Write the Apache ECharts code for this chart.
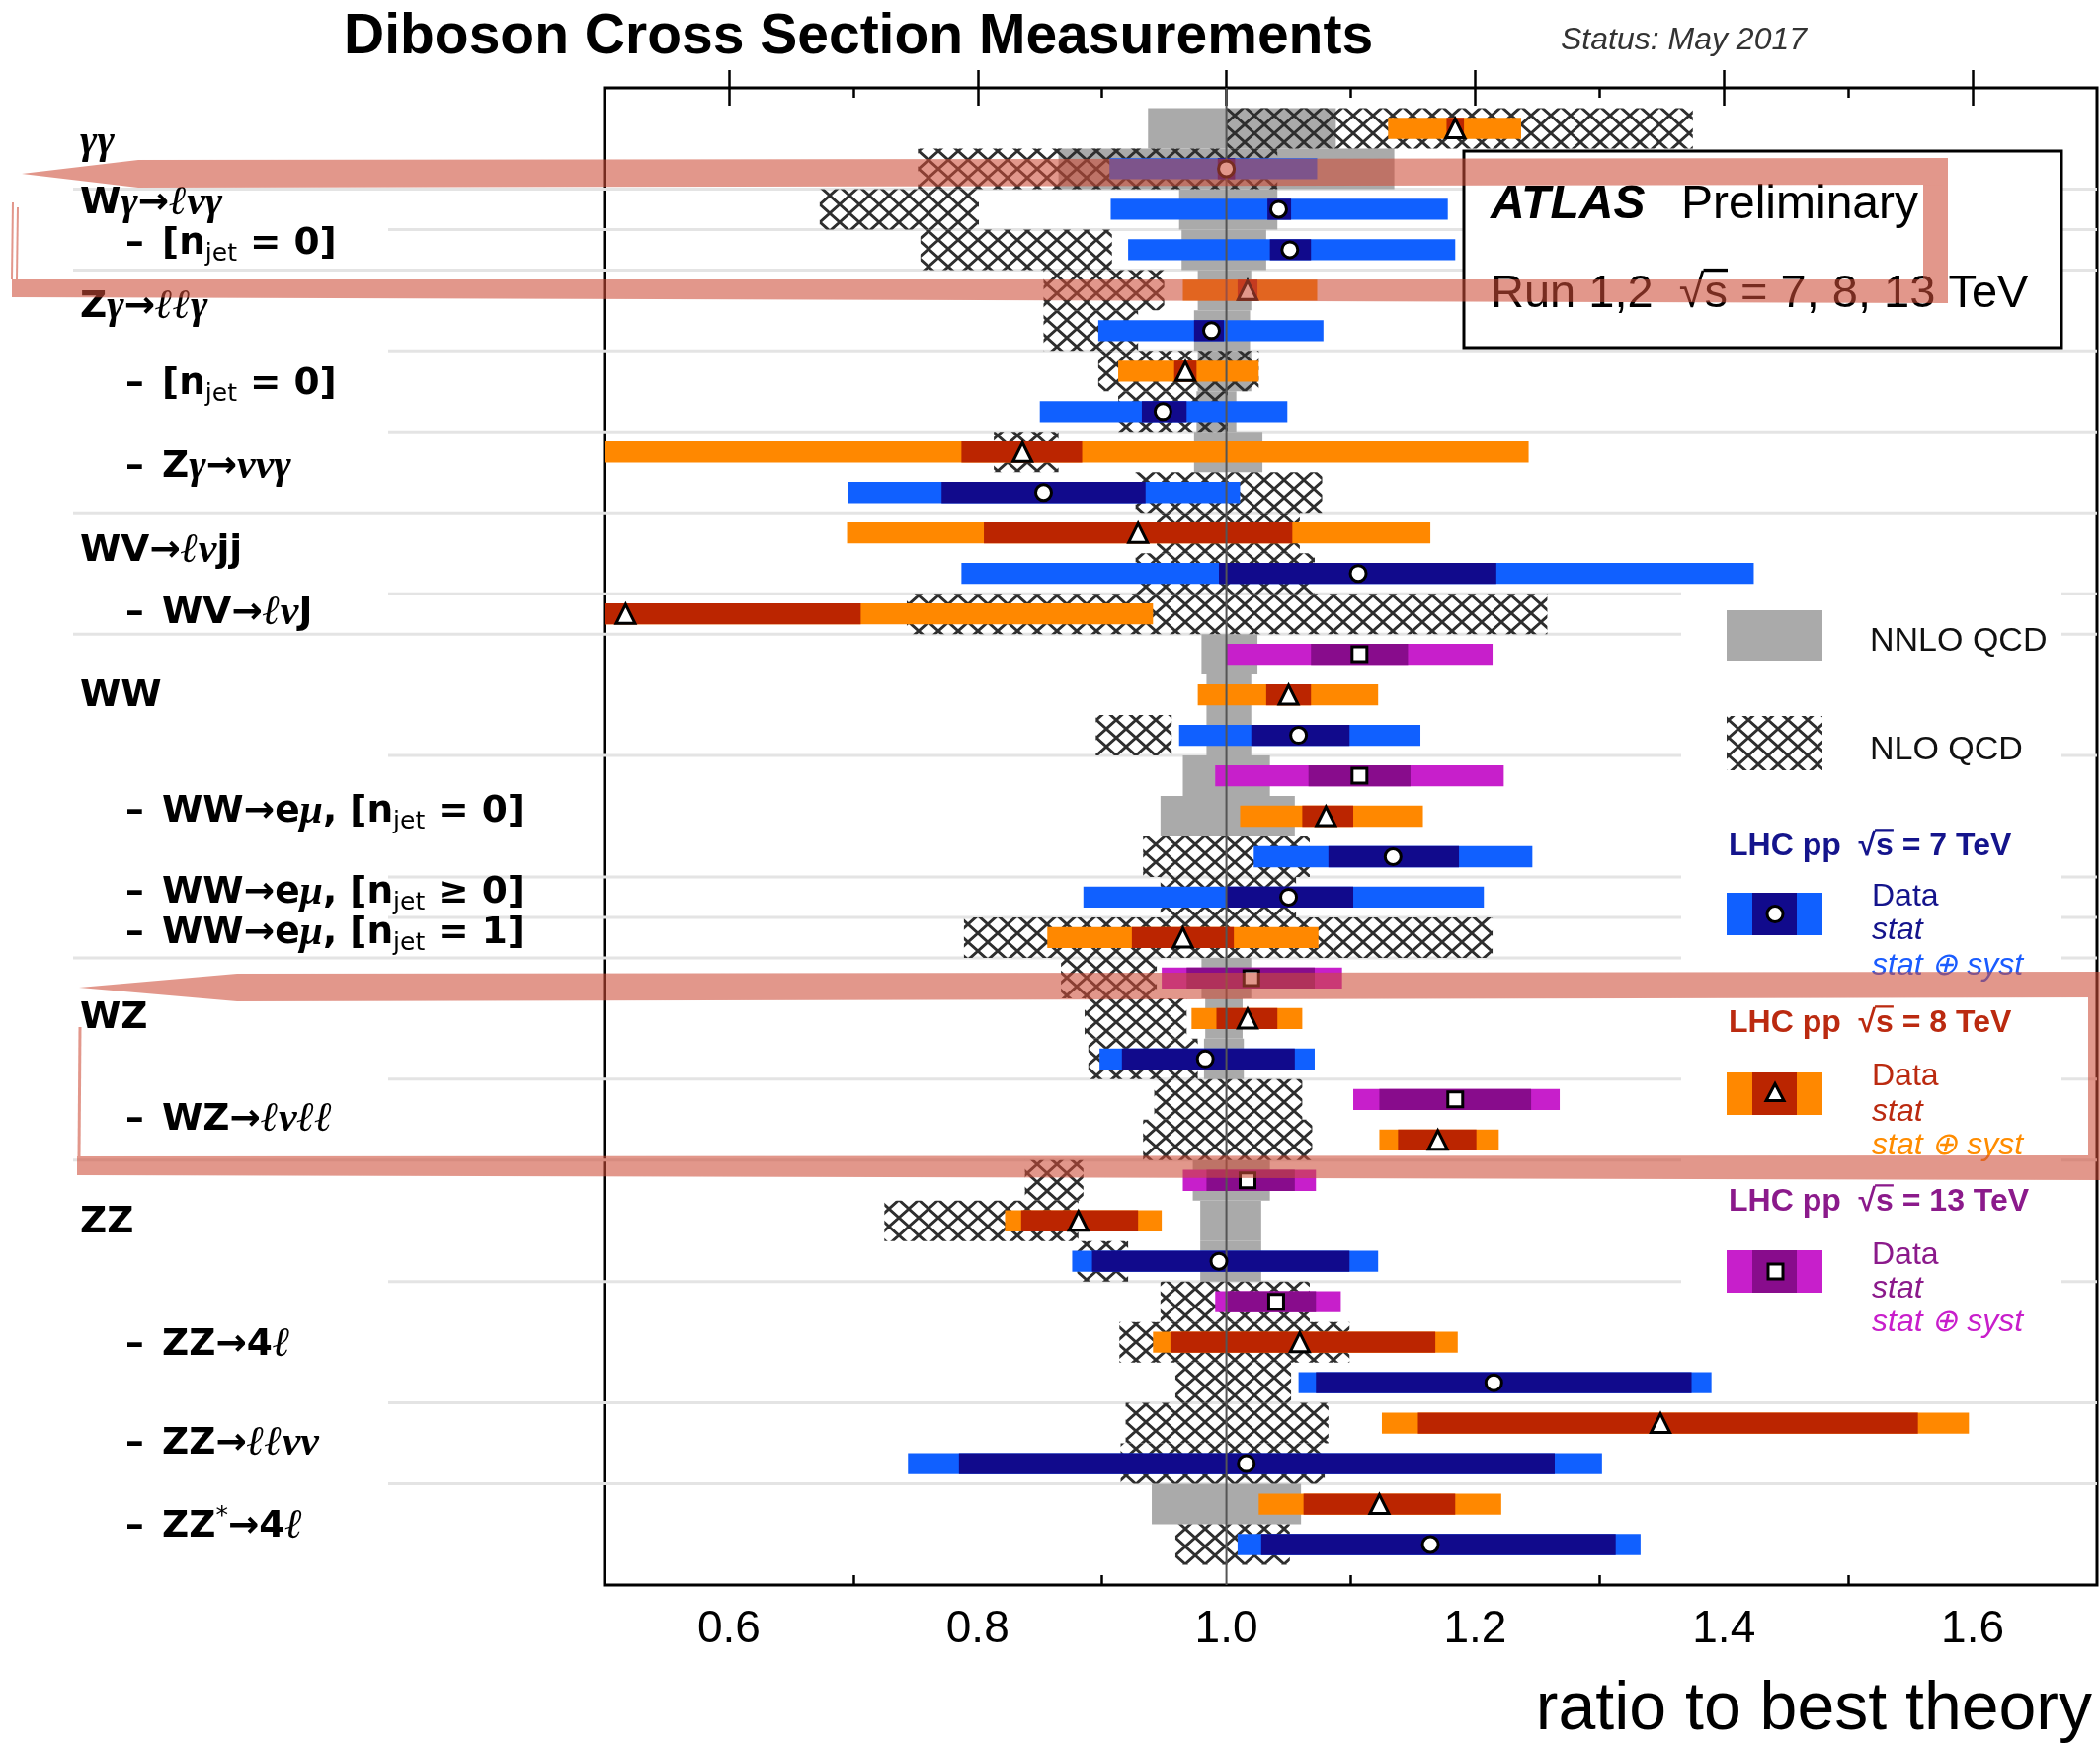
<!DOCTYPE html>
<html>
<head>
<meta charset="utf-8">
<title>Diboson Cross Section Measurements</title>
<script src="https://cdn.jsdelivr.net/npm/echarts@6/dist/echarts.min.js"></script>
<style>
  html, body { margin: 0; padding: 0; background: #fff; }
  #chart { width: 2126px; height: 1766px; }
</style>
</head>
<body>
<div id="chart"></div>
<script>
// measurement rows, 1 = top of the plot
var rows = [1, 2, 3, 4, 5, 6, 7, 8, 9, 10, 11, 12, 13, 14, 15, 16, 17, 18,
            19, 20, 21, 22, 23, 24, 25, 26, 27, 28, 29, 30, 31, 32, 33, 34, 35, 36];
// sqrt(s) in TeV of each row
var energy = [8, 7, 7, 7, 8, 7, 8, 7, 8, 7, 8, 7, 8, 13, 8, 7, 13, 8,
              7, 7, 8, 13, 8, 7, 13, 8, 13, 8, 7, 13, 8, 7, 8, 7, 8, 7];
// data / best theory
var central = [1.184, 1.000, 1.042, 1.051, 1.017, 0.988, 0.967, 0.949, 0.836, 0.853, 0.929, 1.106,
               0.517, 1.107, 1.050, 1.058, 1.107, 1.080, 1.134, 1.050, 0.965, 1.020, 1.017, 0.983,
               1.184, 1.170, 1.017, 0.881, 0.994, 1.040, 1.059, 1.215, 1.349, 1.016, 1.123, 1.164];
// stat (+) syst band
var totLow = [1.130, 0.906, 0.907, 0.921, 0.965, 0.897, 0.913, 0.850, 0.450, 0.696, 0.695, 0.787,
              0.200, 1.000, 0.977, 0.962, 0.991, 1.011, 1.022, 0.885, 0.856, 0.948, 0.972, 0.898,
              1.102, 1.123, 0.965, 0.822, 0.876, 0.991, 0.941, 1.058, 1.125, 0.744, 1.026, 1.009];
var totHigh = [1.237, 1.073, 1.178, 1.184, 1.073, 1.078, 1.026, 1.049, 1.243, 1.011, 1.164, 1.424,
               0.941, 1.214, 1.122, 1.156, 1.223, 1.158, 1.246, 1.207, 1.074, 1.093, 1.061, 1.071,
               1.268, 1.219, 1.072, 0.948, 1.122, 1.092, 1.186, 1.390, 1.597, 1.302, 1.221, 1.333];
// stat only band
var statLow = [1.177, 0.993, 1.033, 1.035, 1.009, 0.974, 0.958, 0.932, 0.787, 0.771, 0.805, 0.994,
               0.330, 1.068, 1.032, 1.020, 1.066, 1.061, 1.082, 1.000, 0.924, 0.968, 0.992, 0.916,
               1.123, 1.138, 0.984, 0.835, 0.892, 1.001, 0.955, 1.072, 1.154, 0.785, 1.062, 1.028];
var statHigh = [1.191, 1.007, 1.052, 1.068, 1.025, 0.998, 0.976, 0.968, 0.884, 0.935, 1.053, 1.217,
                0.706, 1.146, 1.068, 1.099, 1.148, 1.102, 1.187, 1.102, 1.006, 1.071, 1.041, 1.055,
                1.245, 1.201, 1.055, 0.929, 1.099, 1.072, 1.168, 1.374, 1.556, 1.264, 1.184, 1.313];

// NNLO QCD theory (grey)
var nnloRows = [1, 2, 3, 4, 5, 6, 7, 8, 9, 14, 15, 16, 17, 18, 22, 23, 24, 27, 28, 29, 35];
var nnloLow = [0.937, 0.865, 0.962, 0.964, 0.977, 0.974, 0.977, 0.976, 0.974, 0.980, 0.984,
               0.984, 0.965, 0.947, 0.980, 0.983, 0.982, 0.973, 0.979, 0.979, 0.940];
var nnloHigh = [1.088, 1.135, 1.041, 1.032, 1.020, 1.019, 1.020, 1.008, 1.029, 1.025, 1.020,
                1.020, 1.035, 1.055, 1.020, 1.013, 1.014, 1.035, 1.028, 1.028, 1.060];

// NLO QCD theory (hatched)
var nloRows = [1, 2, 3, 4, 5, 6, 7, 8, 9, 10, 11, 12, 13, 16, 19, 20, 21, 22, 23, 24, 25, 26,
               27, 28, 29, 30, 31, 32, 33, 34, 36];
var nloLow = [1.000, 0.752, 0.673, 0.754, 0.853, 0.853, 0.897, 0.913, 0.813, 0.927, 0.944, 0.927,
              0.743, 0.895, 0.933, 0.947, 0.789, 0.867, 0.886, 0.889, 0.942, 0.933, 0.838, 0.725,
              0.880, 0.947, 0.914, 0.959, 0.919, 0.915, 0.959];
var nloHigh = [1.375, 1.041, 0.801, 0.908, 0.950, 0.929, 1.026, 1.001, 0.865, 1.077, 1.059, 1.071,
               1.258, 0.956, 1.067, 1.056, 1.214, 0.944, 0.968, 0.977, 1.061, 1.069, 0.885, 0.881,
               0.921, 1.067, 1.099, 1.052, 1.082, 1.079, 1.051];

// light separators drawn below these rows
var sepLong = [2, 4, 10, 13, 21, 26];
var sepShort = [3, 6, 8, 12, 16, 19, 20, 24, 29, 32, 34];

// process labels
var labelRows = [1.35, 2.86, 3.86, 5.42, 7.32, 9.37, 11.45, 12.98, 15.03, 17.89, 19.89, 20.89,
                 22.99, 25.51, 28.04, 31.07, 33.51, 35.56];
var labelTexts = [
  '{m|γγ}',
  'W{m|γ}→{m|ℓνγ}',
  '[n{s|jet} = 0]',
  'Z{m|γ}→{m|ℓℓγ}',
  '[n{s|jet} = 0]',
  'Z{m|γ}→{m|ννγ}',
  'WV→{m|ℓν}jj',
  'WV→{m|ℓν}J',
  'WW',
  'WW→e{m|μ}, [n{s|jet} = 0]',
  'WW→e{m|μ}, [n{s|jet} ≥ 0]',
  'WW→e{m|μ}, [n{s|jet} = 1]',
  'WZ',
  'WZ→{m|ℓνℓℓ}',
  'ZZ',
  'ZZ→4{m|ℓ}',
  'ZZ→{m|ℓℓνν}',
  'ZZ{p|*}→4{m|ℓ}'
];
var labelSub = [0, 0, 1, 0, 1, 1, 0, 1, 0, 1, 1, 1, 0, 1, 0, 1, 1, 1];

var tickMajor = [0.6, 0.8, 1.0, 1.2, 1.4, 1.6];
var tickMinor = [0.7, 0.9, 1.1, 1.3, 1.5];

var energies = [7, 8, 13];

// colours per energy
var outerColor = { 7: '#1060ff', 8: '#ff8800', 13: '#c71fcb' };
var innerColor = { 7: '#110a8c', 8: '#bb2500', 13: '#880c8c' };
var markerShape = { 7: 'circle', 8: 'triangle', 13: 'rect' };
var markerSize = { 7: 16, 8: 19, 13: 15 };
var titleColor = { 7: '#14148c', 8: '#bb2a10', 13: '#8b1a8b' };
var systColor = { 7: '#1a5cff', 8: '#ff8c00', 13: '#c81ecb' };

var XMIN = 0.5, XMAX = 1.7;

// cross hatch pattern for NLO
var hatch = document.createElement('canvas');
hatch.width = 20;
hatch.height = 18;
var hctx = hatch.getContext('2d');
hctx.strokeStyle = '#2e2e2e';
hctx.lineWidth = 2.8;
hctx.beginPath();
hctx.moveTo(0, 0); hctx.lineTo(20, 18);
hctx.moveTo(20, 0); hctx.lineTo(0, 18);
hctx.stroke();
var hatchFill = { image: hatch, repeat: 'repeat' };

// used to put the bar over the s of sqrt(s)
var measure = document.createElement('canvas').getContext('2d');
function textWidth(str, font) {
  measure.font = font;
  return measure.measureText(str).width;
}

function clampX(v) {
  return Math.min(Math.max(v, XMIN), XMAX);
}

function bandRender(fill) {
  return function(params, api) {
    var r = api.value(0);
    var p0 = api.coord([clampX(api.value(1)), r - 0.5]);
    var p1 = api.coord([clampX(api.value(2)), r + 0.5]);
    return {
      type: 'rect',
      shape: { x: p0[0], y: p0[1], width: p1[0] - p0[0], height: p1[1] - p0[1] },
      style: { fill: fill }
    };
  };
}

function barRender(params, api) {
  var r = api.value(0);
  var e = api.value(5);
  var h = Math.abs(api.size([0, 0.52])[1]);
  var a = api.coord([clampX(api.value(1)), r]);
  var b = api.coord([clampX(api.value(2)), r]);
  var c = api.coord([clampX(api.value(3)), r]);
  var d = api.coord([clampX(api.value(4)), r]);
  return {
    type: 'group',
    children: [
      { type: 'rect', shape: { x: a[0], y: a[1] - h / 2, width: b[0] - a[0], height: h },
        style: { fill: outerColor[e] } },
      { type: 'rect', shape: { x: c[0], y: c[1] - h / 2, width: d[0] - c[0], height: h },
        style: { fill: innerColor[e] } }
    ]
  };
}

function sepRender(params, api) {
  var y = api.coord([1, api.value(0) + 0.5])[1];
  var x1 = api.coord([XMAX, 0])[0];
  return {
    type: 'line',
    shape: { x1: api.value(1) ? 74 : 393, y1: y, x2: x1, y2: y },
    style: { stroke: '#e4e4e4', lineWidth: 3 }
  };
}

function unityRender(params, api) {
  var p0 = api.coord([api.value(0), 0]);
  var p1 = api.coord([api.value(0), 37]);
  return {
    type: 'line',
    shape: { x1: p0[0], y1: p0[1], x2: p1[0], y2: p1[1] },
    style: { stroke: '#555', lineWidth: 2 }
  };
}

var richStyles = {
  m: { fontFamily: 'Liberation Serif', fontStyle: 'italic', fontWeight: 'bold', fontSize: 42, lineHeight: 46 },
  s: { fontFamily: 'DejaVu Sans', fontSize: 25, lineHeight: 21, verticalAlign: 'bottom' },
  p: { fontFamily: 'DejaVu Sans', fontSize: 25, lineHeight: 23, verticalAlign: 'top' }
};

function labelStyle(text) {
  return {
    text: text, fontFamily: 'DejaVu Sans', fontWeight: 'bold', fontSize: 37.5, lineHeight: 46,
    fill: '#000', align: 'left', verticalAlign: 'middle', rich: richStyles
  };
}

function labelRender(params, api) {
  var i = api.value(1);
  var y = api.coord([1, api.value(0)])[1];
  var kids = [];
  if (labelSub[i]) {
    kids.push({ type: 'text', x: 127, y: y, style: labelStyle('–') });
    kids.push({ type: 'text', x: 164, y: y, style: labelStyle(labelTexts[i]) });
  } else {
    kids.push({ type: 'text', x: 81, y: y, style: labelStyle(labelTexts[i]) });
  }
  return { type: 'group', children: kids };
}

function xAxisDef(pos, ticks, len, withLabels) {
  return {
    type: 'value', min: XMIN, max: XMAX, position: pos,
    axisLine: { show: false },
    splitLine: { show: false },
    axisTick: { show: true, inside: true, length: len, customValues: ticks,
                lineStyle: { color: '#000', width: 2.5 } },
    axisLabel: withLabels ? {
      show: true, customValues: tickMajor, margin: 22,
      formatter: function(v) { return v.toFixed(1); },
      fontSize: 46, fontFamily: 'Liberation Sans', color: '#000'
    } : { show: false }
  };
}

// overline for the "s" of a sqrt(s) written at (x, y)
function sqrtBar(prefix, x, y, font, size, color, z) {
  var x0 = x + textWidth(prefix + '√', font);
  var w = textWidth('s', font);
  var yy = y - size * 0.52;
  return { type: 'line', z: z, shape: { x1: x0 - 1, y1: yy, x2: x0 + w, y2: yy },
           style: { stroke: color, lineWidth: Math.max(2, size / 14) } };
}

// build series data
var barData = rows.map(function(r, i) {
  return [r, totLow[i], totHigh[i], statLow[i], statHigh[i], energy[i]];
});
var markerData = rows.map(function(r, i) {
  return { value: [central[i], r], symbol: markerShape[energy[i]], symbolSize: markerSize[energy[i]] };
});
var nnloData = nnloRows.map(function(r, i) { return [r, nnloLow[i], nnloHigh[i]]; });
var nloData = nloRows.map(function(r, i) { return [r, nloLow[i], nloHigh[i]]; });
var sepData = sepLong.map(function(r) { return [r, 1]; })
  .concat(sepShort.map(function(r) { return [r, 0]; }));
var labelData = labelRows.map(function(r, i) { return [r, i]; });

// legend and decorations
var HL = 'rgba(205,75,55,0.58)';
var graphics = [
  { type: 'text', x: 348, y: 38, style: { text: 'Diboson Cross Section Measurements', fontFamily: 'Liberation Sans',
      fontWeight: 'bold', fontSize: 57, fill: '#000', verticalAlign: 'middle' } },
  { type: 'text', x: 1580, y: 41, style: { text: 'Status: May 2017', fontFamily: 'Liberation Sans',
      fontStyle: 'italic', fontSize: 32, fill: '#333', verticalAlign: 'middle' } },
  { type: 'text', x: 2118, y: 1732, style: { text: 'ratio to best theory', fontFamily: 'Liberation Sans',
      fontSize: 68, fill: '#000', align: 'right', verticalAlign: 'middle' } },

  // ATLAS box
  { type: 'rect', z: 10, shape: { x: 1482, y: 153, width: 605, height: 199 },
    style: { fill: '#fff', stroke: '#000', lineWidth: 3 } },
  { type: 'text', z: 11, x: 1509, y: 208, style: { text: 'ATLAS', fontFamily: 'Liberation Sans',
      fontStyle: 'italic', fontWeight: 'bold', fontSize: 48, fill: '#000', verticalAlign: 'middle' } },
  { type: 'text', z: 11, x: 1702, y: 208, style: { text: 'Preliminary', fontFamily: 'Liberation Sans',
      fontSize: 48, fill: '#000', verticalAlign: 'middle' } },
  { type: 'text', z: 11, x: 1509, y: 298, style: { text: 'Run 1,2  √s = 7, 8, 13 TeV', fontFamily: 'Liberation Sans',
      fontSize: 47, fill: '#000', verticalAlign: 'middle' } },
  sqrtBar('Run 1,2  ', 1509, 298, '47px "Liberation Sans"', 47, '#000', 11),

  // legend
  { type: 'rect', z: 9, shape: { x: 1702, y: 598, width: 385, height: 762 }, style: { fill: '#fff' } },
  { type: 'rect', z: 10, shape: { x: 1748, y: 618, width: 97, height: 51 }, style: { fill: '#aaaaaa' } },
  { type: 'text', z: 10, x: 1893, y: 650, style: { text: 'NNLO QCD', fontFamily: 'Liberation Sans',
      fontSize: 34, fill: '#111', verticalAlign: 'middle' } },
  { type: 'rect', z: 10, shape: { x: 1748, y: 725, width: 97, height: 55 }, style: { fill: hatchFill } },
  { type: 'text', z: 10, x: 1893, y: 760, style: { text: 'NLO QCD', fontFamily: 'Liberation Sans',
      fontSize: 34, fill: '#111', verticalAlign: 'middle' } }
];

var legTitleY = [857, 1036, 1217];
var legBoxY = [904, 1086, 1266];
var legTextY = [[908, 942, 978], [1090, 1126, 1160], [1271, 1305, 1339]];
energies.forEach(function(e, k) {
  var cy = legBoxY[k] + 21.5;
  graphics.push(
    { type: 'text', z: 10, x: 1750, y: legTitleY[k], style: { text: 'LHC pp  √s = ' + e + ' TeV',
        fontFamily: 'Liberation Sans', fontWeight: 'bold', fontSize: 32, fill: titleColor[e], verticalAlign: 'middle' } },
    sqrtBar('LHC pp  ', 1750, legTitleY[k], 'bold 32px "Liberation Sans"', 32, titleColor[e], 10),
    { type: 'rect', z: 10, shape: { x: 1748, y: legBoxY[k], width: 97, height: 43 }, style: { fill: outerColor[e] } },
    { type: 'rect', z: 10, shape: { x: 1774, y: legBoxY[k], width: 45, height: 43 }, style: { fill: innerColor[e] } },
    { type: 'text', z: 10, x: 1895, y: legTextY[k][0], style: { text: 'Data', fontFamily: 'Liberation Sans',
        fontSize: 32, fill: titleColor[e], verticalAlign: 'middle' } },
    { type: 'text', z: 10, x: 1895, y: legTextY[k][1], style: { text: 'stat', fontFamily: 'Liberation Sans',
        fontStyle: 'italic', fontSize: 32, fill: titleColor[e], verticalAlign: 'middle' } },
    { type: 'text', z: 10, x: 1895, y: legTextY[k][2], style: { text: 'stat ⊕ syst', fontFamily: 'Liberation Sans',
        fontStyle: 'italic', fontSize: 32, fill: systColor[e], verticalAlign: 'middle' } }
  );
  var mk = { fill: '#fff', stroke: '#000', lineWidth: 3 };
  if (e === 7) {
    graphics.push({ type: 'circle', z: 11, shape: { cx: 1797, cy: cy, r: 8 }, style: mk });
  } else if (e === 8) {
    graphics.push({ type: 'polygon', z: 11, shape: { points: [[1797, cy - 10], [1806, cy + 7], [1788, cy + 7]] }, style: mk });
  } else {
    graphics.push({ type: 'rect', z: 11, shape: { x: 1790, y: cy - 7.5, width: 15, height: 15 }, style: mk });
  }
});

// hand drawn highlight marks
graphics.push(
  { type: 'polygon', z: 20, shape: { points: [[22, 176], [140, 162], [1972, 160], [1972, 187], [140, 190]] }, style: { fill: HL } },
  { type: 'rect', z: 20, shape: { x: 1947, y: 187, width: 25, height: 96 }, style: { fill: HL } },
  { type: 'polygon', z: 20, shape: { points: [[12, 283], [1972, 283], [1972, 307], [12, 301]] }, style: { fill: HL } },
  { type: 'polyline', z: 20, shape: { points: [[13, 205], [12, 283]] }, style: { stroke: HL, lineWidth: 2, fill: null } },
  { type: 'polyline', z: 20, shape: { points: [[18, 210], [17, 283]] }, style: { stroke: HL, lineWidth: 2, fill: null } },
  { type: 'polygon', z: 20, shape: { points: [[80, 1000], [240, 986], [2126, 984], [2126, 1010], [240, 1014]] }, style: { fill: HL } },
  { type: 'polygon', z: 20, shape: { points: [[78, 1171], [2126, 1170], [2126, 1195], [78, 1190]] }, style: { fill: HL } },
  { type: 'rect', z: 20, shape: { x: 2114, y: 1010, width: 12, height: 160 }, style: { fill: HL } },
  { type: 'polyline', z: 20, shape: { points: [[81, 1040], [80, 1171]] }, style: { stroke: HL, lineWidth: 3, fill: null } }
);

var chart = echarts.init(document.getElementById('chart'));
var option = {
  animation: false,
  backgroundColor: '#fff',
  grid: { left: 612, top: 89, width: 1511, height: 1516, show: true,
          borderColor: '#000', borderWidth: 3, backgroundColor: 'transparent' },
  xAxis: [
    xAxisDef('bottom', tickMajor, 18, true),
    xAxisDef('bottom', tickMinor, 10, false),
    xAxisDef('top', tickMajor, 18, false),
    xAxisDef('top', tickMinor, 10, false)
  ],
  yAxis: { type: 'value', inverse: true, min: 0, max: 37, show: false },
  series: [
    { type: 'custom', z: 1, clip: false, renderItem: sepRender, data: sepData, encode: { y: 0 } },
    { type: 'custom', z: 2, renderItem: bandRender('#aaaaaa'), data: nnloData, encode: { x: [1, 2], y: 0 } },
    { type: 'custom', z: 3, renderItem: bandRender(hatchFill), data: nloData, encode: { x: [1, 2], y: 0 } },
    { type: 'custom', z: 4, renderItem: barRender, data: barData, encode: { x: [1, 2], y: 0 } },
    { type: 'custom', z: 5, renderItem: unityRender, data: [[1.0]], encode: { x: 0 } },
    { type: 'scatter', z: 6, data: markerData,
      itemStyle: { color: '#fff', borderColor: '#000', borderWidth: 3, opacity: 1 } },
    { type: 'custom', z: 6, clip: false, renderItem: labelRender, data: labelData, encode: { y: 0 } }
  ],
  graphic: { elements: graphics }
};
chart.setOption(option);
</script>
</body>
</html>
